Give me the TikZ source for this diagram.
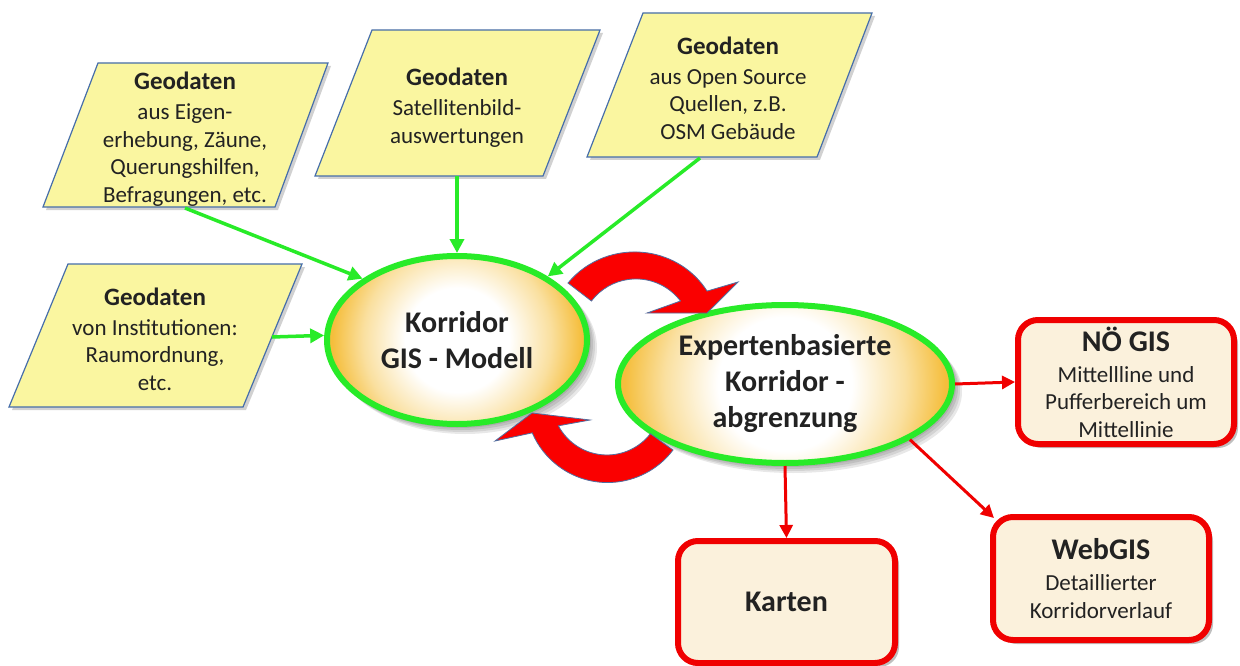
\documentclass[tikz,border=0pt]{standalone}
\usepackage{fontspec}
\setmainfont{Carlito}
\usetikzlibrary{arrows.meta,shapes.geometric,shadows}

\definecolor{paraY}{RGB}{250,246,160}
\definecolor{paraB}{RGB}{70,110,170}
\definecolor{lgreen}{RGB}{40,235,40}
\definecolor{ellgold}{RGB}{245,190,60}
\definecolor{ellmid}{RGB}{250,224,160}
\definecolor{boxred}{RGB}{240,0,0}
\definecolor{cream}{RGB}{251,241,220}
\definecolor{txt}{RGB}{34,34,34}
\definecolor{arrred}{RGB}{250,0,0}
\definecolor{arrline}{RGB}{80,110,160}

\pgfdeclareradialshading{ellshade}{\pgfpoint{0bp}{0bp}}{color(0bp)=(white);color(10bp)=(white);color(18bp)=(ellmid);color(24bp)=(ellgold);color(50bp)=(ellgold)}

\newcommand\geotitle[1]{{\bfseries\fontsize{25}{30}\selectfont #1}}
\newcommand\boxtitle[1]{{\bfseries\fontsize{30}{34}\selectfont #1}}

\tikzset{
  para/.style={fill=paraY, draw=paraB, line width=1.2pt,
    drop shadow={shadow xshift=3pt, shadow yshift=-3pt, opacity=0.18, fill=black}},
  ptext/.style={align=center, text=txt, inner sep=0pt, font=\fontsize{23}{27.5}\selectfont},
  ell/.style={ellipse, draw=lgreen, line width=6pt, inner sep=0pt, align=center, text=txt,
    font=\bfseries\fontsize{30}{36}\selectfont},
  ellshadow/.style={fill=black, opacity=0.09},
  box/.style={rectangle, rounded corners=20pt, draw=boxred, line width=6pt, fill=cream,
    align=center, text=txt, inner sep=2pt, font=\fontsize{23}{27.5}\selectfont,
    drop shadow={shadow xshift=4pt, shadow yshift=-4pt, opacity=0.25, fill=black}},
  garrow/.style={draw=lgreen, line width=3.5pt, -{Triangle[length=14pt,width=14pt]}},
  rarrow/.style={draw=boxred, line width=3pt, -{Triangle[length=13pt,width=13pt]}},
  blockarrow/.style={fill=arrred, draw=arrline, line width=0.8pt, line join=miter}
}

\begin{document}
\begin{tikzpicture}[x=1pt,y=-1pt]
\useasboundingbox[fill=white] (0,0) rectangle (1240,666);

% parallelograms (data sources)
\path[para] (98,63) -- (328,63) -- (275,207) -- (43,207) -- cycle;
\path[para] (372,30) -- (600,30) -- (543,176) -- (315,176) -- cycle;
\path[para] (643,13) -- (872,13) -- (817,157) -- (587,157) -- cycle;
\path[para] (68,264) -- (302,264) -- (243,407) -- (9,407) -- cycle;

\node[ptext] (t1) at (185,139) {\geotitle{Geodaten}\\[2.5pt]aus Eigen-\\erhebung, Zäune,\\Querungshilfen,\\Befragungen, etc.};
\node[ptext] (t2) at (457,107.5) {\geotitle{Geodaten}\\[2.5pt]Satellitenbild-\\auswertungen};
\node[ptext] (t3) at (728,88) {\geotitle{Geodaten}\\[2.5pt]aus Open Source\\Quellen, z.B.\\OSM Gebäude};
\node[ptext] (t4) at (155,339) {\geotitle{Geodaten}\\[2.5pt]von Institutionen:\\Raumordnung,\\etc.};

\coordinate (p1o) at (185,208);
\coordinate (p2o) at (457,176);
\coordinate (p3o) at (700,158);
\coordinate (p4o) at (272,337);

% soft shadows and shading of the ellipses
\foreach \s in {2,4,6,8} {
  \fill[ellshadow] (457+\s,340+\s) ellipse[x radius=132, y radius=86];
  \fill[ellshadow] (785+\s,384+\s) ellipse[x radius=169, y radius=81];
}
\begin{scope}
  \clip (457,340) ellipse[x radius=130, y radius=84];
  \shade[shading=ellshade] (457,340) circle[radius=130pt];
\end{scope}
\begin{scope}
  \clip (785,384) ellipse[x radius=167, y radius=79];
  \shade[shading=ellshade] (785,384) circle[radius=167pt];
\end{scope}

% ellipses
\node[ell, minimum width=260pt, minimum height=168pt] (e1) at (457,340) {Korridor\\GIS - Modell};
\node[ell, minimum width=334pt, minimum height=158pt] (e2) at (785,384) {Expertenbasierte\\Korridor -\\abgrenzung};

% output boxes
\node[box, minimum width=216pt, minimum height=124pt] (nogis) at (1126,382) {\boxtitle{NÖ GIS}\\[3.5pt]Mittellline und\\Pufferbereich um\\Mittellinie};
\node[box, minimum width=216pt, minimum height=123pt] (webgis) at (1101,578.5) {\boxtitle{WebGIS}\\[3.5pt]Detaillierter\\Korridorverlauf};
\node[box, minimum width=217pt, minimum height=122pt] (karten) at (786.5,602) {\boxtitle{Karten}};

% curved block arrows
\filldraw[blockarrow] (568,283) arc[start angle=-141.6, end angle=-31.5, x radius=85, y radius=82]
  -- (738,282) -- (707,313) -- (647,313) -- (680.5,301)
  arc[start angle=-37.3, end angle=-142.7, radius=56] -- cycle;
\filldraw[blockarrow] (673,450) arc[start angle=37.1, end angle=156.8, radius=82]
  -- (495,441) -- (532,413) -- (590,420) -- (558.4,425.8)
  arc[start angle=152, end angle=37.9, radius=55] -- cycle;

% connectors
\draw[garrow] (p1o) -- (e1.147);
\draw[garrow] (p2o) -- (e1.north);
\draw[garrow] (p3o) -- (e1.35);
\draw[garrow] (p4o) -- (e1.178);

\draw[rarrow] (e2.east) -- (nogis.west);
\draw[rarrow] (e2.south) -- (karten.north);
\draw[rarrow] (e2.-24) -- ([shift={(4,4)}]webgis.north west);
\end{tikzpicture}
\end{document}
